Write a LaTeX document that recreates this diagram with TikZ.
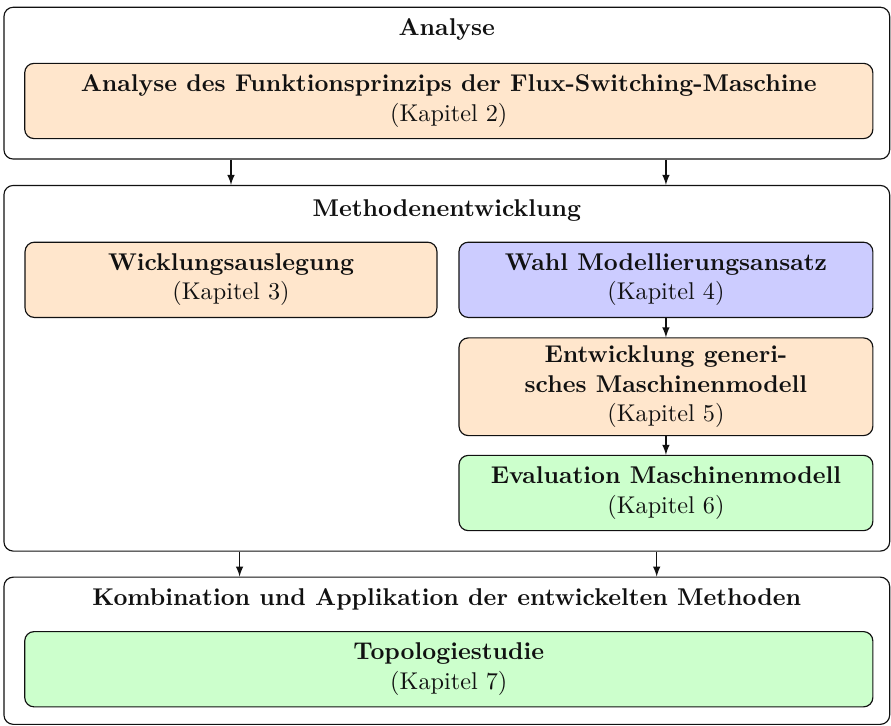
\documentclass[tikz,border=0pt]{standalone}
\usetikzlibrary{positioning}

\definecolor{fsmorange}{HTML}{FFE6CC}
\definecolor{fsmblue}{HTML}{CCCCFF}
\definecolor{fsmgreen}{HTML}{CCFFCC}
\definecolor{fsmink}{HTML}{111111}

\begin{document}
\begin{tikzpicture}[
  x=1mm, y=1mm,
  font=\fontsize{10.45}{12.7}\selectfont,
  phase/.style={draw=fsmink, line width=0.5pt, rounded corners=4pt,
    minimum width=134.2mm, inner sep=0pt},
  phasetitle/.style={font=\fontsize{10.45}{12.7}\selectfont\bfseries, text=fsmink},
  chapbox/.style={draw=fsmink, line width=0.5pt, rounded corners=4pt,
    align=center, inner sep=0pt, minimum height=11.4mm, text=fsmink},
  flow/.style={fsmink, line width=0.5pt, -latex},
]
\useasboundingbox (0, 0) rectangle (135.0, 110.0);

% Phasen
\node[phase, minimum height=23.0mm] (analyse) at (67.7, 97.4) {};
\node[phase, minimum height=55.4mm] (methoden) at (67.7, 54.2) {};
\node[phase, minimum height=22.3mm] (kombi) at (67.7, 11.4) {};

\node[phasetitle] (analyseT) at (67.7, 105.6) {Analyse};
\node[phasetitle] (methodenT) at (67.7, 78.1) {Methodenentwicklung};
\node[phasetitle] (kombiT) at (67.7, 19.2)
  {Kombination und Applikation der entwickelten Methoden};

% Kapitel
\node[chapbox, fill=fsmorange, minimum width=128.5mm] (kap2) at (68.0, 94.7)
  {\textbf{Analyse des Funktionsprinzips der Flux-Switching-Maschine}\\(Kapitel 2)};
\node[chapbox, fill=fsmorange, minimum width=62.4mm] (kap3) at (35.0, 67.6)
  {\textbf{Wicklungsauslegung}\\(Kapitel 3)};
\node[chapbox, fill=fsmblue, minimum width=62.7mm] (kap4) at (100.9, 67.6)
  {\textbf{Wahl Modellierungsansatz}\\(Kapitel 4)};
\node[chapbox, fill=fsmorange, minimum width=62.7mm, minimum height=14.8mm]
  (kap5) at (100.9, 51.4)
  {\textbf{Entwicklung generi-}\\\textbf{sches Maschinenmodell}\\(Kapitel 5)};
\node[chapbox, fill=fsmgreen, minimum width=62.7mm] (kap6) at (100.9, 35.3)
  {\textbf{Evaluation Maschinenmodell}\\(Kapitel 6)};
\node[chapbox, fill=fsmgreen, minimum width=128.5mm] (kap7) at (68.0, 8.6)
  {\textbf{Topologiestudie}\\(Kapitel 7)};

% Uebergaenge
\draw[flow] (kap3 |- analyse.south) -- (kap3 |- methoden.north);
\draw[flow] (kap4 |- analyse.south) -- (kap4 |- methoden.north);
\draw[flow] (kap4) -- (kap5);
\draw[flow] (kap5) -- (kap6);
\draw[flow] ([xshift=-31.4mm]methoden.south) -- ([xshift=-31.4mm]kombi.north);
\draw[flow] ([xshift=31.8mm]methoden.south) -- ([xshift=31.8mm]kombi.north);

\end{tikzpicture}
\end{document}
